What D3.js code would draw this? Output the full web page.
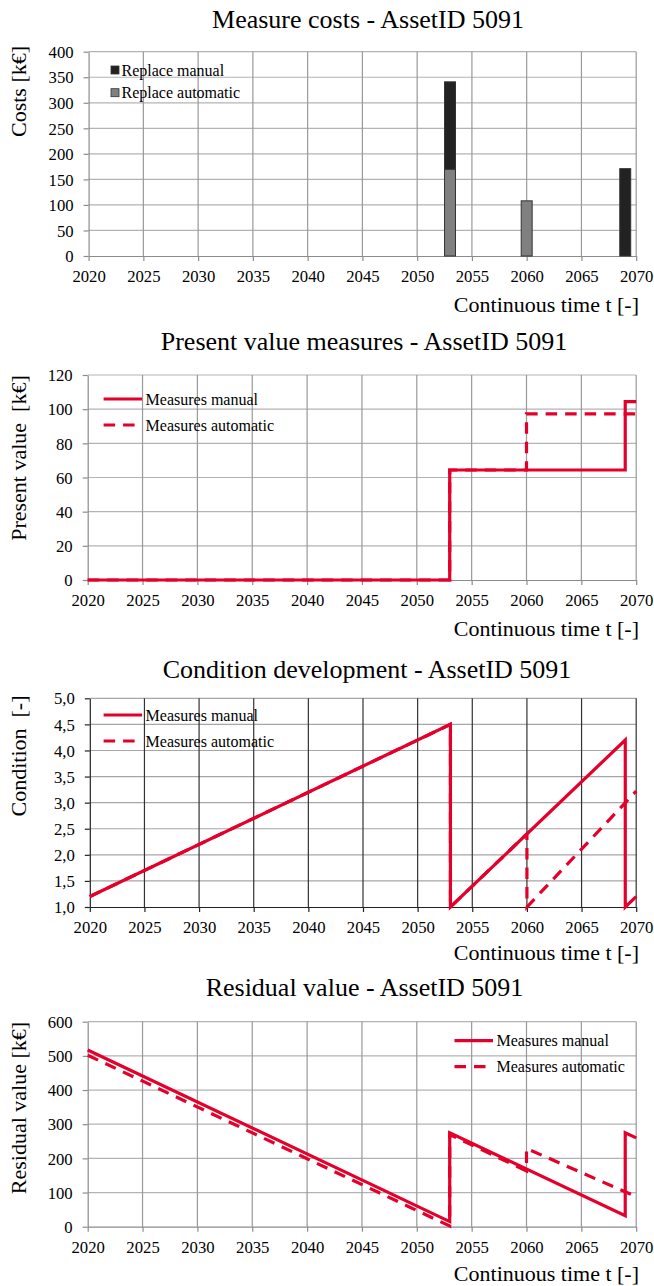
<!DOCTYPE html>
<html><head><meta charset="utf-8">
<script src="https://cdn.jsdelivr.net/npm/d3@7"></script>
<style>
body{margin:0;background:#fff}
svg{display:block}
</style>
</head><body>
<svg id="chart" width="654" height="1286" font-family="Liberation Serif, Times New Roman, serif"></svg>
<script>
// ---- data ----
const xTicks = [2020, 2025, 2030, 2035, 2040, 2045, 2050, 2055, 2060, 2065, 2070];

const costYears = [2053, 2060, 2069];
const costAutomatic = [170, 108, 0];
const costManual = [171, 0, 171];
const costTicks = [0, 50, 100, 150, 200, 250, 300, 350, 400];

const pvManual = [[2020, 0], [2053, 0], [2053, 64.4], [2069, 64.4], [2069, 104.4], [2070, 104.4]];
const pvAutomatic = [[2020, 0], [2053, 0], [2053, 64.4], [2060, 64.4], [2060, 97.2], [2070, 97.2]];
const pvTicks = [0, 20, 40, 60, 80, 100, 120];

const condManual = [[2020, 1.2], [2053, 4.5], [2053, 1.0], [2069, 4.2], [2069, 1.0], [2070, 1.2]];
const condAutomatic = [[2020, 1.2], [2053, 4.5], [2053, 1.0], [2060, 2.4], [2060, 1.0], [2070, 3.22]];
const condTicks = [1.0, 1.5, 2.0, 2.5, 3.0, 3.5, 4.0, 4.5, 5.0];

const resManual = [[2020, 517], [2053, 15], [2053, 275], [2069, 32], [2069, 275], [2070, 260]];
const resAutomatic = [[2020, 502], [2053, 2], [2053, 270], [2060, 163], [2060, 229], [2070, 88]];
const resTicks = [0, 100, 200, 300, 400, 500, 600];

// ---- styling ----
const FONT = "Liberation Serif, Times New Roman, serif";
const RED = "#e4002b";
const DARK = "#222222";
const GREY = "#808080";
const DASH = "11.5,8";
const svg = d3.select("#chart");

function label(g, x, y, size, txt, anchor) {
  return g.append("text").attr("x", x).attr("y", y).attr("text-anchor", anchor || "start")
    .attr("font-family", FONT).attr("font-size", size).attr("fill", "#000").text(txt);
}

function frame(cfg) {
  const g = svg.append("g");
  const x = d3.scaleLinear().domain([2020, 2070]).range([cfg.left, cfg.right]);
  const y = d3.scaleLinear().domain([cfg.yTicks[0], cfg.yTicks[cfg.yTicks.length - 1]]).range([cfg.bottom, cfg.top]);

  // horizontal grid
  g.append("g").selectAll("line").data(cfg.yTicks.slice(1)).join("line")
    .attr("x1", cfg.left).attr("x2", cfg.right)
    .attr("y1", d => y(d)).attr("y2", d => y(d))
    .attr("stroke", cfg.hGrid).attr("stroke-width", 1.2);
  // vertical grid
  g.append("g").selectAll("line").data(xTicks.slice(1)).join("line")
    .attr("x1", d => x(d)).attr("x2", d => x(d))
    .attr("y1", cfg.top).attr("y2", cfg.bottom)
    .attr("stroke", cfg.vGrid).attr("stroke-width", 1.2);

  // x axis
  const xa = g.append("g").attr("transform", `translate(0,${cfg.bottom})`)
    .call(d3.axisBottom(x).tickValues(xTicks).tickFormat(d3.format("d")).tickSizeInner(5).tickSizeOuter(0));
  xa.attr("font-family", FONT).attr("font-size", 16.7);
  xa.select(".domain").attr("stroke", cfg.axis).attr("stroke-width", 1.2);
  xa.selectAll(".tick line").attr("stroke", cfg.axis).attr("stroke-width", 1.2);
  xa.selectAll(".tick text").attr("y", 26).attr("dy", 0).attr("fill", "#000");

  // y axis
  const ya = g.append("g").attr("transform", `translate(${cfg.left},0)`)
    .call(d3.axisLeft(y).tickValues(cfg.yTicks).tickFormat(cfg.fmt).tickSizeInner(5).tickSizeOuter(0).tickPadding(10));
  ya.attr("font-family", FONT).attr("font-size", 16.7);
  ya.select(".domain").attr("stroke", cfg.axis).attr("stroke-width", 1.2);
  ya.selectAll(".tick line").attr("stroke", cfg.axis).attr("stroke-width", 1.2);
  ya.selectAll(".tick text").attr("dy", "0.34em").attr("fill", "#000");

  // titles
  label(g, cfg.titleX, cfg.titleY, 26, cfg.title, "middle");
  label(g, 639, cfg.xTitleY, 22, "Continuous time t [-]", "end");
  label(g, 0, 0, 22, cfg.yTitle, "middle")
    .attr("transform", `translate(26,${cfg.yTitleY}) rotate(-90)`)
    .style("white-space", "pre");

  return { g, x, y };
}

function lineLegend(g, lx, ly, entries) {
  entries.forEach((e, i) => {
    const yy = ly + i * 26;
    g.append("line").attr("x1", lx).attr("x2", lx + 38.5).attr("y1", yy).attr("y2", yy)
      .attr("stroke", RED).attr("stroke-width", 3.2).attr("stroke-dasharray", e.dash);
    label(g, lx + 42, yy + 5.5, 16, e.label);
  });
}

function drawLine(g, x, y, data, dash) {
  g.append("path").datum(data)
    .attr("d", d3.line().x(d => x(d[0])).y(d => y(d[1])))
    .attr("fill", "none").attr("stroke", RED).attr("stroke-width", 3.2)
    .attr("stroke-linejoin", "miter").attr("stroke-dasharray", dash);
}

// ---- 1. Measure costs ----
{
  const { g, x, y } = frame({
    left: 88.6, right: 636.2, top: 51.7, bottom: 256, yTicks: costTicks, fmt: d3.format("d"),
    hGrid: "#b3b3b3", vGrid: "#999999", axis: "#8c8c8c",
    title: "Measure costs - AssetID 5091", titleX: 368, titleY: 27.5, xTitleY: 312, yTitle: "Costs [k€]", yTitleY: 91.5
  });
  const stack = d3.stack().keys(["automatic", "manual"])(
    costYears.map((yr, i) => ({ year: yr, automatic: costAutomatic[i], manual: costManual[i] })));
  const colors = { automatic: GREY, manual: DARK };
  stack.forEach(layer => {
    g.append("g").selectAll("rect").data(layer.filter(d => d[1] > d[0])).join("rect")
      .attr("x", d => x(d.data.year - 0.5)).attr("width", d => x(d.data.year + 0.5) - x(d.data.year - 0.5))
      .attr("y", d => y(d[1])).attr("height", d => y(d[0]) - y(d[1]))
      .attr("fill", colors[layer.key]).attr("stroke", "#333").attr("stroke-width", 1);
  });
  const leg = [{ label: "Replace manual", c: DARK }, { label: "Replace automatic", c: GREY }];
  leg.forEach((e, i) => {
    const yy = 70 + i * 22.7;
    g.append("rect").attr("x", 111).attr("y", yy - 4).attr("width", 8).attr("height", 8)
      .attr("fill", e.c).attr("stroke", "#333").attr("stroke-width", 0.8);
    label(g, 121.5, yy + 5.5, 16, e.label);
  });
}

// ---- 2. Present value ----
{
  const { g, x, y } = frame({
    left: 87.7, right: 636.2, top: 375, bottom: 580, yTicks: pvTicks, fmt: d3.format("d"),
    hGrid: "#b3b3b3", vGrid: "#999999", axis: "#8c8c8c",
    title: "Present value measures - AssetID 5091", titleX: 364, titleY: 349.5, xTitleY: 636, yTitle: "Present value  [k€]", yTitleY: 458
  });
  drawLine(g, x, y, pvAutomatic, DASH);
  drawLine(g, x, y, pvManual, null);
  lineLegend(g, 103.6, 399, [{ label: "Measures manual", dash: null }, { label: "Measures automatic", dash: DASH }]);
}

// ---- 3. Condition ----
{
  const fmtComma = d => d3.format(".1f")(d).replace(".", ",");
  const { g, x, y } = frame({
    left: 89.8, right: 636.2, top: 698.3, bottom: 907, yTicks: condTicks, fmt: fmtComma,
    hGrid: "#a6a6a6", vGrid: "#333333", axis: "#222222",
    title: "Condition development - AssetID 5091", titleX: 367, titleY: 677.5, xTitleY: 960, yTitle: "Condition  [-]", yTitleY: 756
  });
  drawLine(g, x, y, condAutomatic, DASH);
  drawLine(g, x, y, condManual, null);
  lineLegend(g, 103.6, 715, [{ label: "Measures manual", dash: null }, { label: "Measures automatic", dash: DASH }]);
}

// ---- 4. Residual value ----
{
  const { g, x, y } = frame({
    left: 87.7, right: 636.2, top: 1021.7, bottom: 1226.7, yTicks: resTicks, fmt: d3.format("d"),
    hGrid: "#b3b3b3", vGrid: "#999999", axis: "#8c8c8c",
    title: "Residual value - AssetID 5091", titleX: 364.5, titleY: 996, xTitleY: 1281, yTitle: "Residual value [k€]", yTitleY: 1108
  });
  drawLine(g, x, y, resAutomatic, DASH);
  drawLine(g, x, y, resManual, null);
  lineLegend(g, 454.5, 1040.7, [{ label: "Measures manual", dash: null }, { label: "Measures automatic", dash: DASH }]);
}
</script>
</body></html>
